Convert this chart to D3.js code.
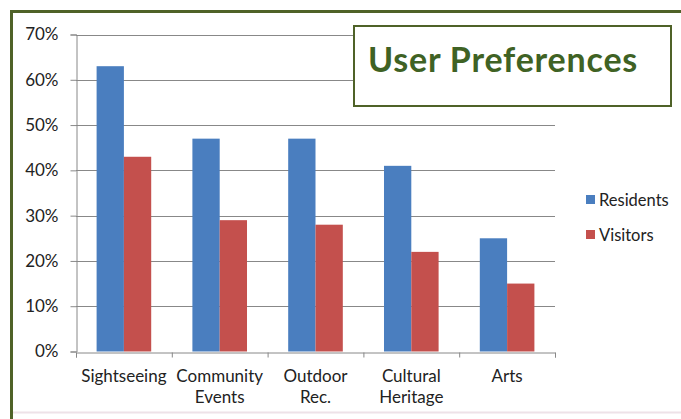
<!DOCTYPE html>
<html><head><meta charset="utf-8">
<script src="https://cdn.jsdelivr.net/npm/d3@7"></script>
<style>body{margin:0;background:#fff;}svg{display:block;font-family:Lato,"Open Sans",sans-serif;}</style>
</head><body>
<svg id="c" width="681" height="419"></svg>
<script>
const categories = [["Sightseeing"],["Community","Events"],["Outdoor","Rec."],["Cultural","Heritage"],["Arts"]];
const seriesNames = ["Residents","Visitors"];
const residents = [63,47,47,41,25];
const visitors = [43,29,28,22,15];
const yTicks = [0,10,20,30,40,50,60,70];
const colors = ["#4A7EBF","#C4504D"];
const titleText = "User Preferences";

(function(){
const svg = d3.select("#c");
// outer frame
svg.append("line").attr("x1",11.5).attr("x2",11.5).attr("y1",10).attr("y2",419).attr("stroke","#4F6228").attr("stroke-width",3);
svg.append("line").attr("x1",10).attr("x2",681).attr("y1",11.5).attr("y2",11.5).attr("stroke","#4F6228").attr("stroke-width",3);
svg.append("line").attr("x1",13).attr("x2",681).attr("y1",412.5).attr("y2",412.5).attr("stroke","#eee2e8").attr("stroke-width",2);

const pLeft=76, pRight=555, pTop=34.5, pBottom=351.5;
const keys = categories.map((d,i)=>i);
const x0 = d3.scaleBand().domain(keys).range([pLeft,pRight]).paddingInner(0.43).paddingOuter(0.215);
const x1 = d3.scaleBand().domain(seriesNames).range([0,x0.bandwidth()]);
const y = d3.scaleLinear().domain([0,70]).range([pBottom,pTop]);

// gridlines
svg.append("g").selectAll("line").data(yTicks.filter(t=>t>0)).join("line")
  .attr("x1",pLeft).attr("x2",pRight).attr("y1",d=>Math.round(y(d))+0.5).attr("y2",d=>Math.round(y(d))+0.5)
  .attr("stroke","#888").attr("stroke-width",1);

// y axis
const yAxis = d3.axisLeft(y).tickValues(yTicks).tickFormat(d=>d+"%").tickSize(6).tickPadding(12);
const gy = svg.append("g").attr("transform",`translate(${pLeft+0.5},0)`).call(yAxis);
gy.select(".domain").attr("stroke","#888");
gy.selectAll(".tick line").attr("stroke","#888");
gy.selectAll("text").attr("font-size",17).attr("fill","#222").attr("font-family","Lato,sans-serif");

// bars
const data = keys.map(i=>[residents[i],visitors[i]]);
const g = svg.append("g");
g.selectAll("g").data(data).join("g").attr("transform",(d,i)=>`translate(${x0(i)},0)`)
  .selectAll("rect").data(d=>d.map((v,j)=>({v,j}))).join("rect")
  .attr("x",d=>x1(seriesNames[d.j])).attr("width",x1.bandwidth())
  .attr("y",d=>y(d.v)).attr("height",d=>y(0)-y(d.v))
  .attr("fill",d=>colors[d.j]);

// x axis
const xs = d3.scaleLinear().domain([0,categories.length]).range([pLeft,pRight]);
const gx = svg.append("g").attr("transform",`translate(0,${Math.round(pBottom)+0.5})`)
  .call(d3.axisBottom(xs).tickValues(d3.range(categories.length+1)).tickSize(5).tickFormat(""));
gx.select(".domain").attr("stroke","#888");
gx.selectAll(".tick line").attr("stroke","#888");
const lab = svg.append("g");
categories.forEach((c,i)=>{
  const cx = x0(i)+x0.bandwidth()/2;
  const t = lab.append("text").attr("text-anchor","middle").attr("font-size",17).attr("fill","#222")
    .attr("x",cx).attr("y",382);
  c.forEach((s,k)=>t.append("tspan").attr("x",cx).attr("dy",k?21:0).text(s));
});

// title box
svg.append("rect").attr("x",354).attr("y",26).attr("width",317).attr("height",80)
  .attr("fill","#fff").attr("stroke","#4F6228").attr("stroke-width",2);
svg.append("text").attr("x",368).attr("y",72).attr("font-size",34).attr("font-weight","bold")
  .attr("letter-spacing",0.8)
  .attr("fill","#3F6224").attr("font-family","Lato,sans-serif").text(titleText);

// legend
const lg = svg.append("g");
seriesNames.forEach((s,i)=>{
  const yy = 200+i*35;
  lg.append("rect").attr("x",586).attr("y",yy-5).attr("width",9).attr("height",9).attr("fill",colors[i]);
  lg.append("text").attr("x",599).attr("y",yy+6).attr("font-size",16.5).attr("fill","#222").text(s);
});
})();
</script>
</body></html>
